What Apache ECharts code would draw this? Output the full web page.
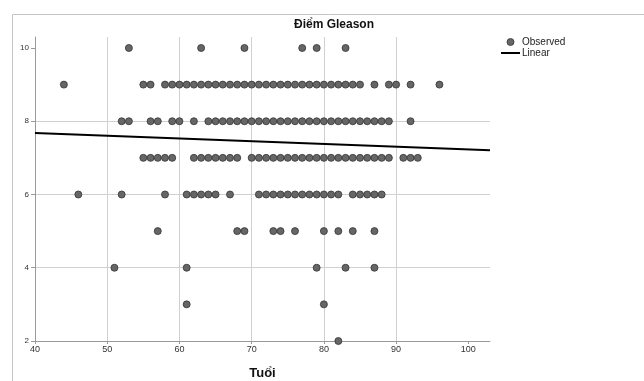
<!DOCTYPE html>
<html>
<head>
<meta charset="utf-8">
<script src="https://cdn.jsdelivr.net/npm/echarts@6/dist/echarts.min.js"></script>
<style>
html,body{margin:0;padding:0;background:#fff;}
#chart{width:644px;height:381px;}
</style>
</head>
<body>
<div id="chart"></div>
<script>
// Observed points: ages (x) at each Gleason score (y)
const ages10 = [53, 63, 69, 77, 79, 83];
const ages9 = [44, 55, 56, 58, 59, 60, 61, 62, 63, 64, 65, 66, 67, 68, 69, 70, 71, 72, 73, 74, 75, 76, 77, 78, 79, 80, 81, 82, 83, 84, 85, 87, 89, 90, 92, 96];
const ages8 = [52, 53, 56, 57, 59, 60, 62, 64, 65, 66, 67, 68, 69, 70, 71, 72, 73, 74, 75, 76, 77, 78, 79, 80, 81, 82, 83, 84, 85, 86, 87, 88, 89, 92];
const ages7 = [55, 56, 57, 58, 59, 62, 63, 64, 65, 66, 67, 68, 70, 71, 72, 73, 74, 75, 76, 77, 78, 79, 80, 81, 82, 83, 84, 85, 86, 87, 88, 89, 91, 92, 93];
const ages6 = [46, 52, 58, 61, 62, 63, 64, 65, 67, 71, 72, 73, 74, 75, 76, 77, 78, 79, 80, 81, 82, 84, 85, 86, 87, 88];
const ages5 = [57, 68, 69, 73, 74, 76, 80, 82, 84, 87];
const ages4 = [51, 61, 79, 83, 87];
const ages3 = [61, 80];
const ages2 = [82];
const scoreRows = [
  [10, ages10], [9, ages9], [8, ages8], [7, ages7], [6, ages6],
  [5, ages5], [4, ages4], [3, ages3], [2, ages2]
];
// Linear fit line endpoints
const lineX = [40, 103];
const lineY = [7.68, 7.21];
// Axis ticks
const xTicks = [40, 50, 60, 70, 80, 90, 100];
const yTicks = [2, 4, 6, 8, 10];

const observed = [];
scoreRows.forEach(([score, ages]) => ages.forEach(a => observed.push([a, score])));
const linear = lineX.map((x, i) => [x, lineY[i]]);

const font = '"Liberation Sans", Arial, sans-serif';
const chart = echarts.init(document.getElementById('chart'), null, {renderer: 'canvas'});
chart.setOption({
  animation: false,
  backgroundColor: '#fff',
  title: {
    text: 'Điểm Gleason',
    left: 329, top: 14, textAlign: 'center',
    textStyle: {fontFamily: font, fontSize: 12, fontWeight: 'bold', color: '#111'}
  },
  legend: {
    orient: 'vertical', left: 496, top: 32,
    itemWidth: 19, itemHeight: 7, itemGap: 1,
    symbolKeepAspect: true,
    textStyle: {fontFamily: font, fontSize: 10, lineHeight: 10, color: '#222', padding: [0, 0, 0, -3]},
    data: [
      {name: 'Observed', icon: 'circle', itemStyle: {color: '#666', borderColor: '#333', borderWidth: 0.8}},
      {name: 'Linear', icon: 'path://M0,0 L19,0 L19,2 L0,2 Z', itemStyle: {color: '#000', borderWidth: 0}}
    ]
  },
  grid: {left: 35, right: 154, top: 37, bottom: 40, outerBoundsMode: 'none', containLabel: false},
  xAxis: {
    type: 'value', min: 40, max: 103, interval: 10,
    name: 'Tuổi', nameLocation: 'middle', nameGap: 26,
    nameTextStyle: {fontFamily: font, fontSize: 13, fontWeight: 'bold', color: '#111'},
    axisLine: {show: true, lineStyle: {color: '#9a9a9a', width: 1}},
    axisTick: {show: true, length: 3, customValues: xTicks, lineStyle: {color: '#9a9a9a'}},
    axisLabel: {customValues: xTicks, fontFamily: font, fontSize: 9, color: '#333', margin: 4},
    splitLine: {show: true, showMinLine: false, showMaxLine: false, lineStyle: {color: '#d0d0d0', width: 1}}
  },
  yAxis: {
    type: 'value', min: 2, max: 10.3, interval: 2,
    axisLine: {show: true, lineStyle: {color: '#9a9a9a', width: 1}},
    axisTick: {show: true, length: 4, customValues: yTicks, lineStyle: {color: '#9a9a9a'}},
    axisLabel: {customValues: yTicks, fontFamily: font, fontSize: 8, color: '#333', margin: 6},
    splitLine: {show: true, showMinLine: false, showMaxLine: false, lineStyle: {color: '#d0d0d0', width: 1}}
  },
  graphic: [{
    type: 'rect', left: 10, top: 12, silent: true,
    shape: {x: 0, y: 0, width: 640, height: 380},
    style: {fill: 'none', stroke: '#c4c4c4', lineWidth: 1}
  }],
  series: [
    {
      name: 'Observed', type: 'scatter', data: observed, symbol: 'circle', symbolSize: 7,
      itemStyle: {color: '#666666', borderColor: '#333', borderWidth: 0.8, opacity: 1},
      clip: false, z: 3
    },
    {
      name: 'Linear', type: 'line', data: linear, showSymbol: false, symbol: 'none',
      lineStyle: {color: '#000', width: 2}, itemStyle: {color: '#000'}, z: 4
    }
  ]
});
</script>
</body>
</html>
